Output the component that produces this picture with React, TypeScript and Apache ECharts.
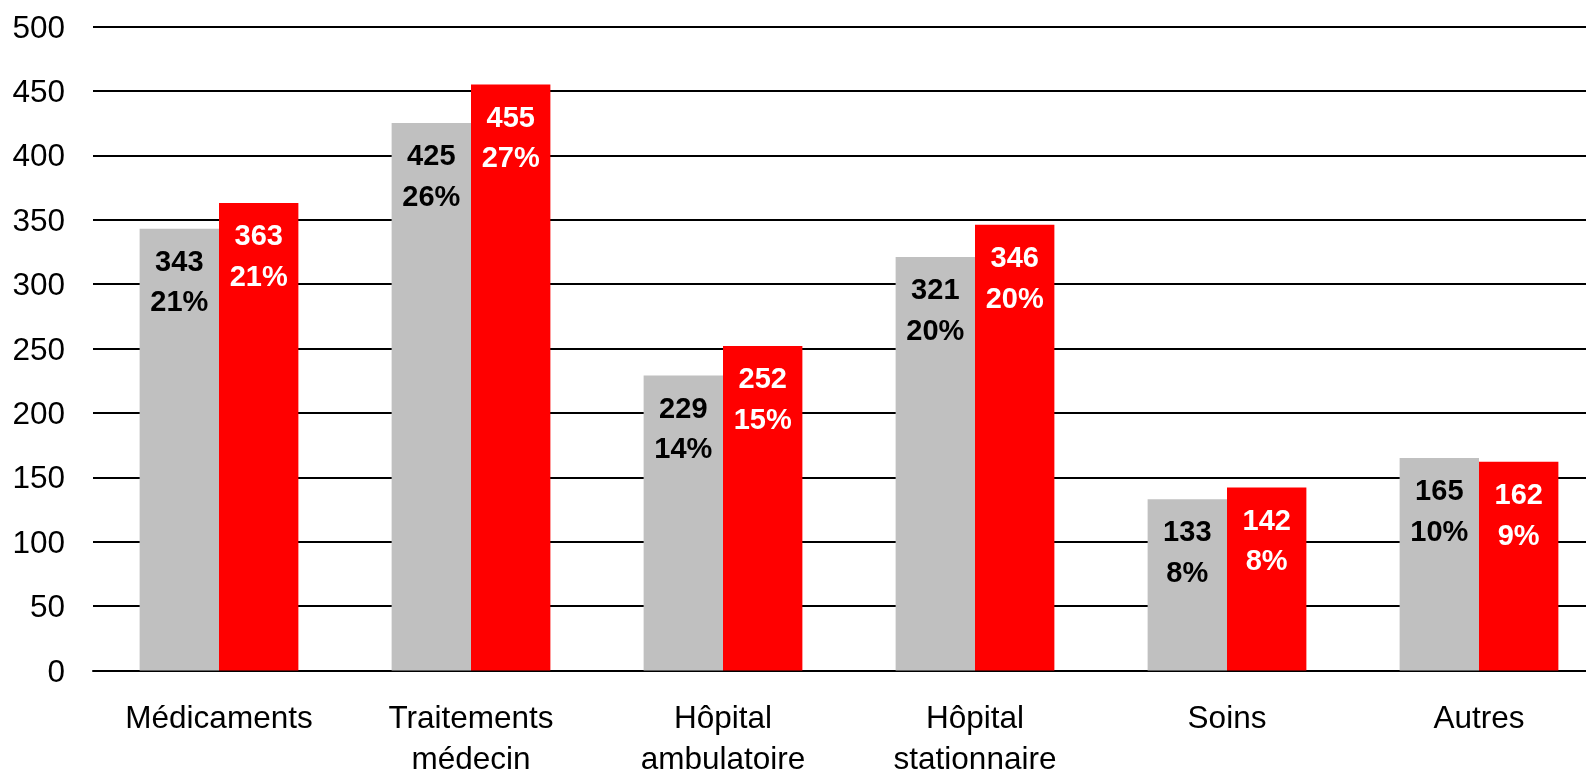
import React, { useEffect, useRef } from "react";
import * as echarts from "echarts";

const categories = ["Médicaments", "Traitements\nmédecin", "Hôpital\nambulatoire", "Hôpital\nstationnaire", "Soins", "Autres"];
const greyValues = [343, 425, 229, 321, 133, 165];
const greyShares = [21, 26, 14, 20, 8, 10];
const redValues = [363, 455, 252, 346, 142, 162];
const redShares = [21, 27, 15, 20, 8, 9];
const yTicks = { min: 0, max: 500, interval: 50 };

const FONT = "'Liberation Sans', Arial, sans-serif";

export default function App() {
  const ref = useRef<HTMLDivElement>(null);
  useEffect(() => {
    if (!ref.current) return;
    const chart = echarts.init(ref.current, null, { renderer: "svg" });
    const labelCommon = {
      show: true,
      position: "insideTop" as const,
      distance: 12,
      fontFamily: FONT,
      fontSize: 29,
      fontWeight: "bold" as const,
      lineHeight: 40.5,
    };
    chart.setOption({
      animation: false,
      textStyle: { fontFamily: FONT },
      grid: {
        left: 93,
        width: 1512,
        top: 26.5,
        height: 644,
        containLabel: false,
        outerBoundsMode: "none",
      },
      xAxis: {
        type: "category",
        data: categories,
        axisLine: { show: true, lineStyle: { color: "#000", width: 2 } },
        axisTick: { show: false },
        axisLabel: { color: "#000", fontSize: 31.5, fontFamily: FONT, margin: 26, lineHeight: 41, interval: 0 },
      },
      yAxis: {
        type: "value",
        min: yTicks.min,
        max: yTicks.max,
        interval: yTicks.interval,
        axisLine: { show: false },
        axisTick: { show: false },
        axisLabel: { color: "#000", fontSize: 31.5, fontFamily: FONT, margin: 28 },
        splitLine: { lineStyle: { color: "#000", width: 2 } },
      },
      series: [
        {
          type: "bar",
          data: greyValues,
          itemStyle: { color: "#C0C0C0" },
          barGap: "0%",
          barCategoryGap: "37%",
          label: {
            ...labelCommon,
            color: "#000",
            formatter: (p: any) => `${greyValues[p.dataIndex]}\n${greyShares[p.dataIndex]}%`,
          },
        },
        {
          type: "bar",
          data: redValues,
          itemStyle: { color: "#FF0000" },
          barGap: "0%",
          barCategoryGap: "37%",
          label: {
            ...labelCommon,
            color: "#fff",
            formatter: (p: any) => `${redValues[p.dataIndex]}\n${redShares[p.dataIndex]}%`,
          },
        },
      ],
    });
    return () => chart.dispose();
  }, []);
  return (
    <div style={{ position: "fixed", left: 0, top: 0, width: 1586, height: 770, overflow: "hidden" }}>
      <div ref={ref} style={{ width: 1586, height: 770 }} />
    </div>
  );
}
